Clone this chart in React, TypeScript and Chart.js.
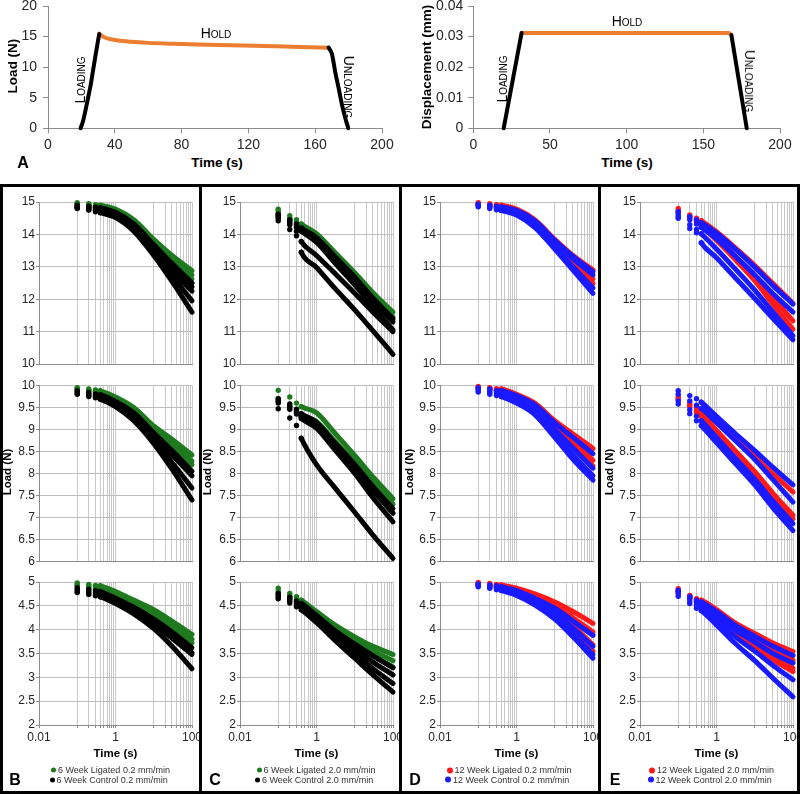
import React, { useEffect, useRef } from "react";
import { Chart, registerables } from "chart.js";
Chart.register(...registerables);

const FONT = "'Liberation Sans', Arial, Helvetica, sans-serif";

// ---------- Panel A : load / displacement vs time ----------
const LOAD_LOADING_T = [19.5, 21, 22.5, 24, 25.5, 27, 28.5, 30, 30.7];
const LOAD_LOADING_N = [0, 1.2, 3.0, 5.0, 7.0, 9.5, 12.0, 14.4, 15.4];
const LOAD_HOLD_T = [30.7, 32, 34, 37, 42, 50, 60, 75, 90, 110, 130, 150, 168];
const LOAD_HOLD_N = [15.5, 15.15, 14.85, 14.6, 14.35, 14.14, 13.97, 13.82, 13.7, 13.58, 13.45, 13.3, 13.17];
const LOAD_UNLOAD_T = [168, 170, 172, 174, 176, 178, 179.8];
const LOAD_UNLOAD_N = [13.2, 12.2, 9.2, 6.6, 3.9, 1.7, 0];

const DISP_LOADING_T = [19.8, 31.5];
const DISP_LOADING_MM = [0, 0.0312];
const DISP_HOLD_T = [31.5, 166.5, 167.5, 168.3];
const DISP_HOLD_MM = [0.0312, 0.0312, 0.0309, 0.0305];
const DISP_UNLOAD_T = [168.3, 178.3];
const DISP_UNLOAD_MM = [0.0305, 0];

// ---------- Panels B-E : stress relaxation (log time) ----------
const SAMPLE_T = [0.1, 0.2, 0.3, 0.4, 1, 3, 10, 30, 100];
const X_GRID_TICKS = [0.01, 0.1, 0.2, 0.3, 0.4, 0.5, 0.6, 0.7, 0.8, 0.9, 1, 10, 20, 30, 40, 50, 60, 70, 80, 90, 100];
const X_TICK_LABELS = [0.01, 1, 100];

// B : 6 week 0.2 mm/min
const B_TOP_LIG = [
  [14.98, 14.95, 14.92, 14.9, 14.78, 14.45, 13.85, 13.35, 12.88],
  [14.95, 14.92, 14.89, 14.87, 14.74, 14.4, 13.78, 13.25, 12.75],
  [14.93, 14.9, 14.86, 14.84, 14.7, 14.35, 13.72, 13.17, 12.62],
  [14.9, 14.86, 14.83, 14.81, 14.67, 14.3, 13.66, 13.08, 12.5],
];
const B_TOP_CTL = [
  [14.9, 14.87, 14.84, 14.82, 14.68, 14.32, 13.68, 13.1, 12.5],
  [14.87, 14.83, 14.8, 14.78, 14.63, 14.26, 13.6, 13.0, 12.38],
  [14.84, 14.8, 14.76, 14.74, 14.6, 14.22, 13.52, 12.88, 12.25],
  [14.82, 14.77, 14.73, 14.7, 14.56, 14.15, 13.42, 12.72, 11.95],
  [14.8, 14.75, 14.7, 14.67, 14.52, 14.1, 13.35, 12.55, 11.6],
];
const B_MID_LIG = [
  [9.95, 9.92, 9.9, 9.88, 9.74, 9.5, 9.08, 8.78, 8.42],
  [9.93, 9.9, 9.87, 9.85, 9.7, 9.45, 9.0, 8.68, 8.28],
  [9.9, 9.87, 9.84, 9.82, 9.67, 9.4, 8.95, 8.6, 8.2],
];
const B_MID_CTL = [
  [9.88, 9.84, 9.81, 9.79, 9.64, 9.38, 8.92, 8.52, 8.05],
  [9.85, 9.81, 9.78, 9.76, 9.6, 9.32, 8.85, 8.42, 7.95],
  [9.82, 9.78, 9.75, 9.72, 9.56, 9.25, 8.75, 8.25, 7.67],
  [9.8, 9.75, 9.72, 9.69, 9.52, 9.2, 8.68, 8.1, 7.4],
];
const B_BOT_LIG = [
  [4.98, 4.95, 4.93, 4.92, 4.8, 4.62, 4.42, 4.18, 3.9],
  [4.95, 4.92, 4.9, 4.88, 4.76, 4.58, 4.36, 4.1, 3.8],
  [4.92, 4.89, 4.87, 4.85, 4.73, 4.54, 4.3, 4.04, 3.72],
];
const B_BOT_CTL = [
  [4.88, 4.85, 4.82, 4.8, 4.66, 4.47, 4.22, 3.95, 3.62],
  [4.85, 4.81, 4.78, 4.76, 4.62, 4.42, 4.16, 3.88, 3.52],
  [4.8, 4.77, 4.74, 4.72, 4.58, 4.38, 4.12, 3.82, 3.48],
  [4.78, 4.74, 4.71, 4.69, 4.55, 4.33, 4.02, 3.65, 3.18],
];

// C : 6 week 2.0 mm/min
const C_TOP_LIG = [
  [14.78, 14.58, 14.45, 14.32, 14.02, 13.45, 12.82, 12.2, 11.6],
  [14.72, 14.5, 14.38, 14.26, 13.95, 13.36, 12.72, 12.08, 11.45],
  [14.65, 14.45, 14.32, 14.22, 13.9, 13.3, 12.64, 11.98, 11.35],
];
const C_TOP_CTL = [
  [14.62, 14.45, 14.32, 14.2, 13.9, 13.32, 12.68, 12.03, 11.4],
  [14.58, 14.4, 14.28, 14.15, 13.84, 13.24, 12.58, 11.93, 11.3],
  [14.55, 14.35, 14.22, 14.1, 13.76, 13.12, 12.44, 11.75, 11.05],
  [14.5, 14.3, 14.1, 13.78, 13.35, 12.8, 12.18, 11.6, 11.0],
  [14.42, 14.15, 13.96, 13.45, 12.98, 12.34, 11.67, 11.02, 10.3],
];
const C_MID_LIG = [
  [9.89, 9.74, 9.6, 9.52, 9.38, 8.92, 8.41, 7.92, 7.43],
  [9.7, 9.55, 9.45, 9.35, 9.18, 8.74, 8.27, 7.8, 7.3],
  [9.65, 9.5, 9.4, 9.3, 9.1, 8.64, 8.14, 7.62, 7.1],
];
const C_MID_CTL = [
  [9.7, 9.58, 9.46, 9.36, 9.16, 8.7, 8.2, 7.7, 7.2],
  [9.65, 9.52, 9.4, 9.3, 9.1, 8.64, 8.14, 7.62, 7.1],
  [9.6, 9.46, 9.35, 9.25, 9.03, 8.54, 8.0, 7.45, 6.9],
  [9.47, 9.26, 9.09, 8.8, 8.2, 7.68, 7.12, 6.6, 6.07],
];
const C_BOT_LIG = [
  [4.87, 4.76, 4.69, 4.62, 4.38, 4.1, 3.85, 3.65, 3.48],
  [4.8, 4.7, 4.62, 4.56, 4.32, 4.02, 3.76, 3.55, 3.35],
  [4.76, 4.66, 4.58, 4.52, 4.28, 3.96, 3.68, 3.45, 3.22],
];
const C_BOT_CTL = [
  [4.76, 4.68, 4.6, 4.55, 4.3, 3.98, 3.7, 3.45, 3.2],
  [4.72, 4.64, 4.56, 4.5, 4.25, 3.92, 3.6, 3.32, 3.05],
  [4.68, 4.6, 4.52, 4.46, 4.2, 3.85, 3.5, 3.18, 2.87],
  [4.65, 4.56, 4.48, 4.42, 4.15, 3.78, 3.4, 3.05, 2.69],
];

// D : 12 week 0.2 mm/min
const D_TOP_LIG = [
  [14.98, 14.95, 14.92, 14.9, 14.78, 14.45, 13.85, 13.35, 12.9],
  [14.95, 14.92, 14.88, 14.86, 14.72, 14.38, 13.75, 13.2, 12.62],
  [14.93, 14.89, 14.85, 14.83, 14.68, 14.32, 13.68, 13.08, 12.48],
];
const D_TOP_CTL = [
  [14.93, 14.9, 14.87, 14.85, 14.74, 14.42, 13.82, 13.32, 12.85],
  [14.9, 14.87, 14.84, 14.82, 14.7, 14.38, 13.78, 13.25, 12.75],
  [14.88, 14.84, 14.8, 14.78, 14.64, 14.28, 13.62, 13.0, 12.35],
  [14.85, 14.8, 14.76, 14.74, 14.6, 14.22, 13.55, 12.9, 12.18],
];
const D_MID_LIG = [
  [9.98, 9.95, 9.93, 9.92, 9.8, 9.6, 9.2, 8.9, 8.57],
  [9.96, 9.93, 9.9, 9.89, 9.76, 9.54, 9.1, 8.72, 8.3],
  [9.94, 9.91, 9.88, 9.86, 9.73, 9.5, 9.04, 8.62, 8.17],
];
const D_MID_CTL = [
  [9.95, 9.92, 9.89, 9.88, 9.77, 9.56, 9.15, 8.82, 8.45],
  [9.92, 9.88, 9.85, 9.83, 9.7, 9.46, 9.0, 8.58, 8.12],
  [9.88, 9.84, 9.81, 9.79, 9.65, 9.4, 8.9, 8.42, 7.95],
  [9.85, 9.8, 9.77, 9.75, 9.6, 9.34, 8.82, 8.32, 7.85],
];
const D_BOT_LIG = [
  [4.99, 4.97, 4.95, 4.94, 4.87, 4.75, 4.58, 4.38, 4.13],
  [4.97, 4.95, 4.93, 4.92, 4.84, 4.7, 4.5, 4.25, 3.95],
  [4.95, 4.93, 4.91, 4.9, 4.8, 4.64, 4.4, 4.08, 3.68],
  [4.94, 4.92, 4.9, 4.88, 4.78, 4.6, 4.35, 4.0, 3.55],
];
const D_BOT_CTL = [
  [4.96, 4.94, 4.92, 4.9, 4.82, 4.66, 4.45, 4.18, 3.88],
  [4.94, 4.91, 4.89, 4.87, 4.78, 4.6, 4.35, 4.03, 3.65],
  [4.92, 4.89, 4.86, 4.85, 4.75, 4.55, 4.27, 3.9, 3.48],
  [4.9, 4.87, 4.84, 4.82, 4.72, 4.52, 4.22, 3.85, 3.4],
];

// E : 12 week 2.0 mm/min
const E_TOP_LIG = [
  [14.8, 14.6, 14.5, 14.42, 14.08, 13.6, 13.04, 12.48, 11.87],
  [14.72, 14.55, 14.42, 14.32, 13.9, 13.34, 12.72, 12.04, 11.33],
  [14.68, 14.5, 14.38, 14.26, 13.82, 13.24, 12.57, 11.84, 11.07],
];
const E_TOP_CTL = [
  [14.7, 14.55, 14.45, 14.36, 14.04, 13.56, 12.99, 12.42, 11.85],
  [14.62, 14.45, 14.32, 14.22, 13.86, 13.34, 12.75, 12.17, 11.6],
  [14.55, 14.3, 14.15, 14.02, 13.55, 12.95, 12.28, 11.6, 10.87],
  [14.5, 14.18, 14.05, 13.74, 13.28, 12.68, 12.02, 11.4, 10.75],
];
const E_MID_LIG = [
  [9.74, 9.6, 9.5, 9.45, 9.16, 8.78, 8.38, 7.99, 7.58],
  [9.7, 9.55, 9.42, 9.35, 8.98, 8.53, 8.04, 7.55, 7.05],
  [9.68, 9.52, 9.38, 9.3, 8.92, 8.46, 7.96, 7.47, 6.97],
];
const E_MID_CTL = [
  [9.88, 9.77, 9.7, 9.62, 9.3, 8.92, 8.52, 8.14, 7.74],
  [9.8, 9.65, 9.55, 9.48, 9.16, 8.76, 8.32, 7.86, 7.35],
  [9.65, 9.45, 9.3, 9.2, 8.82, 8.36, 7.87, 7.37, 6.86],
  [9.58, 9.36, 9.2, 9.09, 8.7, 8.24, 7.74, 7.22, 6.7],
];
const E_BOT_LIG = [
  [4.86, 4.72, 4.65, 4.62, 4.42, 4.15, 3.92, 3.72, 3.54],
  [4.82, 4.7, 4.62, 4.58, 4.35, 4.05, 3.78, 3.55, 3.36],
  [4.8, 4.68, 4.6, 4.55, 4.3, 3.98, 3.68, 3.42, 3.19],
  [4.78, 4.66, 4.58, 4.52, 4.26, 3.94, 3.62, 3.36, 3.12],
];
const E_BOT_CTL = [
  [4.83, 4.69, 4.62, 4.58, 4.38, 4.1, 3.86, 3.65, 3.46],
  [4.8, 4.66, 4.58, 4.54, 4.3, 4.0, 3.74, 3.5, 3.3],
  [4.75, 4.6, 4.52, 4.47, 4.2, 3.86, 3.55, 3.25, 2.95],
  [4.7, 4.55, 4.45, 4.4, 4.1, 3.72, 3.35, 2.98, 2.59],
];

const GREEN = "#1f7a1f";
const BLACK = "#000000";
const RED = "#ff1a1a";
const BLUE = "#1a1aff";
const ORANGE = "#ED7D31";
const TICK_COLOR = "#262626";
const AXIS_COLOR = "#8c8c8c";

// ---------- generic canvas wrapper ----------
function CanvasChart(props: { left: number; top: number; width: number; height: number; make: () => any }) {
  const ref = useRef<HTMLCanvasElement>(null);
  useEffect(() => {
    const chart = new Chart(ref.current as HTMLCanvasElement, props.make());
    return () => chart.destroy();
  }, []);
  return (
    <canvas
      ref={ref}
      width={props.width}
      height={props.height}
      style={{ position: "absolute", left: props.left, top: props.top, width: props.width, height: props.height }}
    />
  );
}

function xy(ts: number[], vs: number[]) {
  return ts.map((t, i) => ({ x: t, y: vs[i] }));
}

const fmt = (v: any) => String(Math.round(Number(v) * 1000) / 1000);

function timeCourseConfig(o: {
  series: { t: number[]; v: number[]; color: string }[];
  xMax: number; xStep: number; yMax: number; yStep: number;
  yWidth: number; padTop: number; padRight: number; xHeight: number; yPad: number;
}) {
  return {
    type: "line",
    data: {
      datasets: o.series.map((s) => ({
        data: xy(s.t, s.v),
        borderColor: s.color,
        backgroundColor: s.color,
        borderWidth: 4,
        pointRadius: 0,
        cubicInterpolationMode: "monotone",
        borderCapStyle: "round",
        fill: false,
        clip: false,
      })),
    },
    options: {
      responsive: false,
      animation: false,
      events: [],
      layout: { padding: { top: o.padTop, right: o.padRight, left: 0, bottom: 0 } },
      plugins: { legend: { display: false }, tooltip: { enabled: false } },
      scales: {
        x: {
          type: "linear",
          min: 0,
          max: o.xMax,
          ticks: { stepSize: o.xStep, font: { family: FONT, size: 14 }, color: TICK_COLOR, padding: 3, maxRotation: 0, callback: fmt },
          grid: { drawOnChartArea: false, tickLength: 5, color: AXIS_COLOR },
          border: { color: AXIS_COLOR },
          afterFit: (s: any) => { s.height = o.xHeight; s.paddingLeft = 0; s.paddingRight = 0; },
        },
        y: {
          min: 0,
          max: o.yMax,
          ticks: { stepSize: o.yStep, font: { family: FONT, size: 14 }, color: TICK_COLOR, padding: o.yPad, callback: fmt },
          grid: { drawOnChartArea: false, tickLength: 5, color: AXIS_COLOR },
          border: { color: AXIS_COLOR },
          afterFit: (s: any) => { s.width = o.yWidth; s.paddingTop = 0; s.paddingBottom = 0; },
        },
      },
    },
  };
}

function relaxConfig(o: {
  groups: { color: string; curves: number[][] }[];
  yMin: number; yMax: number; showX: boolean;
  yWidth: number; padTop: number; padRight: number; xHeight: number;
}) {
  const datasets: any[] = [];
  for (const g of o.groups) {
    for (const c of g.curves) {
      datasets.push({
        data: xy(SAMPLE_T, c),
        borderColor: g.color,
        backgroundColor: g.color,
        borderWidth: 5,
        pointRadius: (ctx: any) => (ctx.dataIndex <= 3 ? 2.7 : 0),
        pointBorderWidth: 0,
        pointHoverRadius: 0,
        cubicInterpolationMode: "monotone",
        borderCapStyle: "round",
        borderJoinStyle: "round",
        fill: false,
        clip: false,
        segment: {
          borderColor: (ctx: any) => (ctx.p0DataIndex < 3 ? "rgba(0,0,0,0)" : undefined),
        },
      });
    }
  }
  return {
    type: "line",
    data: { datasets },
    options: {
      responsive: false,
      animation: false,
      events: [],
      layout: { padding: { top: o.padTop, right: o.padRight, left: 0, bottom: 0 } },
      plugins: { legend: { display: false }, tooltip: { enabled: false } },
      scales: {
        x: {
          type: "logarithmic",
          min: 0.01,
          max: 100,
          afterBuildTicks: (s: any) => { s.ticks = X_GRID_TICKS.map((v) => ({ value: v })); },
          ticks: {
            display: o.showX,
            autoSkip: false,
            maxRotation: 0,
            padding: 2,
            font: { family: FONT, size: 12 },
            color: TICK_COLOR,
            callback: (v: any) => (X_TICK_LABELS.includes(v) ? String(v) : ""),
          },
          grid: { color: "#c9c9c9", tickLength: 3, drawTicks: o.showX, tickColor: AXIS_COLOR },
          border: { color: AXIS_COLOR },
          afterFit: (s: any) => { s.height = o.xHeight; s.paddingLeft = 0; s.paddingRight = 0; },
        },
        y: {
          min: o.yMin,
          max: o.yMax,
          ticks: { stepSize: 0.5, font: { family: FONT, size: 12 }, color: TICK_COLOR, padding: 1, callback: fmt },
          grid: { color: "#bdbdbd", tickLength: 3, tickColor: AXIS_COLOR },
          border: { color: AXIS_COLOR },
          afterFit: (s: any) => { s.width = o.yWidth; s.paddingTop = 0; s.paddingBottom = 0; },
        },
      },
    },
  };
}

function Txt(p: { x: number; y: number; size: number; bold?: boolean; rotate?: number; smallCaps?: boolean; color?: string; children: any }) {
  return (
    <div
      style={{
        position: "absolute",
        left: p.x,
        top: p.y,
        transform: `translate(-50%, -50%) rotate(${p.rotate || 0}deg)`,
        fontFamily: FONT,
        fontSize: p.size,
        fontWeight: p.bold ? "bold" : "normal",
        fontVariant: p.smallCaps ? "small-caps" : "normal",
        color: p.color || "#000",
        whiteSpace: "nowrap",
        lineHeight: 1,
      }}
    >
      {p.children}
    </div>
  );
}

function LegendRow(p: { x: number; y: number; color: string; dot: number; text: string }) {
  return (
    <div
      style={{
        position: "absolute",
        left: p.x - p.dot / 2,
        top: p.y,
        transform: "translateY(-50%)",
        display: "flex",
        alignItems: "center",
        fontFamily: FONT,
        fontSize: 9,
        color: "#333",
        whiteSpace: "nowrap",
        lineHeight: 1,
      }}
    >
      <span style={{ display: "inline-block", width: p.dot, height: p.dot, borderRadius: "50%", background: p.color, marginRight: 2 }} />
      {p.text}
    </div>
  );
}

const PANELS = [
  { key: "B", x: 0, plotLeft: 39, plotRight: 192, lig: GREEN, ctl: BLACK, dot: 5, legX: 53.5, labX: 7.5,
    rows: [[B_TOP_LIG, B_TOP_CTL], [B_MID_LIG, B_MID_CTL], [B_BOT_LIG, B_BOT_CTL]],
    legend: ["6 Week Ligated 0.2 mm/min", "6 Week Control 0.2 mm/min"] },
  { key: "C", x: 200, plotLeft: 40, plotRight: 193, lig: GREEN, ctl: BLACK, dot: 5, legX: 259, labX: 7.5,
    rows: [[C_TOP_LIG, C_TOP_CTL], [C_MID_LIG, C_MID_CTL], [C_BOT_LIG, C_BOT_CTL]],
    legend: ["6 Week Ligated 2.0 mm/min", "6 Week Control 2.0 mm/min"] },
  { key: "D", x: 400, plotLeft: 40, plotRight: 193, lig: RED, ctl: BLUE, dot: 6, legX: 449.5, labX: 9.5,
    rows: [[D_TOP_LIG, D_TOP_CTL], [D_MID_LIG, D_MID_CTL], [D_BOT_LIG, D_BOT_CTL]],
    legend: ["12 Week Ligated 0.2 mm/min", "12 Week Control 0.2 mm/min"] },
  { key: "E", x: 600, plotLeft: 40, plotRight: 193, lig: RED, ctl: BLUE, dot: 6, legX: 652, labX: 9.5,
    rows: [[E_TOP_LIG, E_TOP_CTL], [E_MID_LIG, E_MID_CTL], [E_BOT_LIG, E_BOT_CTL]],
    legend: ["12 Week Ligated 2.0 mm/min", "12 Week Control 2.0 mm/min"] },
];

const ROWS = [
  { top: 189, height: 181, yMin: 10, yMax: 15, padTop: 13, xHeight: 6, showX: false },
  { top: 372, height: 196, yMin: 6, yMax: 10, padTop: 13.5, xHeight: 6.5, showX: false },
  { top: 570, height: 190, yMin: 2, yMax: 5, padTop: 12, xHeight: 35, showX: true },
];

export default function App() {
  const border = (l: number, t: number, w: number, h: number, k: string) => (
    <div key={k} style={{ position: "absolute", left: l, top: t, width: w, height: h, background: "#000" }} />
  );
  return (
    <div style={{ position: "absolute", left: 0, top: 0, width: 800, height: 794, background: "#fff", overflow: "hidden" }}>
      {/* Panel A left: load */}
      <CanvasChart
        left={0} top={0} width={400} height={150}
        make={() =>
          timeCourseConfig({
            series: [
              { t: LOAD_LOADING_T, v: LOAD_LOADING_N, color: BLACK },
              { t: LOAD_UNLOAD_T, v: LOAD_UNLOAD_N, color: BLACK },
              { t: LOAD_HOLD_T, v: LOAD_HOLD_N, color: ORANGE },
            ],
            xMax: 200, xStep: 40, yMax: 20, yStep: 5,
            yWidth: 48, padTop: 6, padRight: 18, xHeight: 21.7, yPad: 6,
          })
        }
      />
      {/* Panel A right: displacement */}
      <CanvasChart
        left={400} top={0} width={400} height={150}
        make={() =>
          timeCourseConfig({
            series: [
              { t: DISP_LOADING_T, v: DISP_LOADING_MM, color: BLACK },
              { t: DISP_UNLOAD_T, v: DISP_UNLOAD_MM, color: BLACK },
              { t: DISP_HOLD_T, v: DISP_HOLD_MM, color: ORANGE },
            ],
            xMax: 200, xStep: 50, yMax: 0.04, yStep: 0.01,
            yWidth: 73.3, padTop: 6, padRight: 20, xHeight: 21.7, yPad: 5,
          })
        }
      />
      <Txt x={13} y={66} size={13.5} bold rotate={-90}>Load (N)</Txt>
      <Txt x={217} y={163} size={13.5} bold>Time (s)</Txt>
      <Txt x={23} y={163} size={16} bold>A</Txt>
      <Txt x={216} y={33} size={14} smallCaps>Hold</Txt>
      <Txt x={80} y={80} size={14} smallCaps rotate={-90}>Loading</Txt>
      <Txt x={349} y={87} size={14} smallCaps rotate={90}>Unloading</Txt>

      <Txt x={427} y={67} size={13.5} bold rotate={-90}>Displacement (mm)</Txt>
      <Txt x={627} y={163} size={13.5} bold>Time (s)</Txt>
      <Txt x={627} y={21} size={14} smallCaps>Hold</Txt>
      <Txt x={502} y={79} size={14} smallCaps rotate={-90}>Loading</Txt>
      <Txt x={750} y={81} size={14} smallCaps rotate={90}>Unloading</Txt>

      {PANELS.map((p) =>
        ROWS.map((r, ri) => (
          <CanvasChart
            key={p.key + ri}
            left={p.x} top={r.top} width={200} height={r.height}
            make={() =>
              relaxConfig({
                groups: [
                  { color: p.ctl, curves: p.rows[ri][1] },
                  { color: p.lig, curves: p.rows[ri][0] },
                ],
                yMin: r.yMin, yMax: r.yMax, showX: r.showX,
                yWidth: p.plotLeft, padTop: r.padTop, padRight: 200 - p.plotRight, xHeight: r.xHeight,
              })
            }
          />
        ))
      )}
      {PANELS.map((p) => (
        <React.Fragment key={"t" + p.key}>
          <Txt x={p.x + p.labX} y={472} size={11.5} bold rotate={-90}>Load (N)</Txt>
          <Txt x={p.x + (p.plotLeft + p.plotRight) / 2} y={754} size={11.5} bold>Time (s)</Txt>
          <Txt x={p.x + 15} y={780} size={16} bold>{p.key}</Txt>
          <LegendRow x={p.legX} y={770} color={p.lig} dot={p.dot} text={p.legend[0]} />
          <LegendRow x={p.legX - 1.5} y={779.5} color={p.ctl} dot={p.dot} text={p.legend[1]} />
        </React.Fragment>
      ))}

      {border(0, 184, 800, 3, "bt")}
      {border(0, 791, 800, 3, "bb")}
      {border(0, 184, 3, 610, "v0")}
      {border(199, 184, 3, 610, "v1")}
      {border(398.5, 184, 3, 610, "v2")}
      {border(598, 184, 3, 610, "v3")}
      {border(797, 184, 3, 610, "v4")}
    </div>
  );
}
